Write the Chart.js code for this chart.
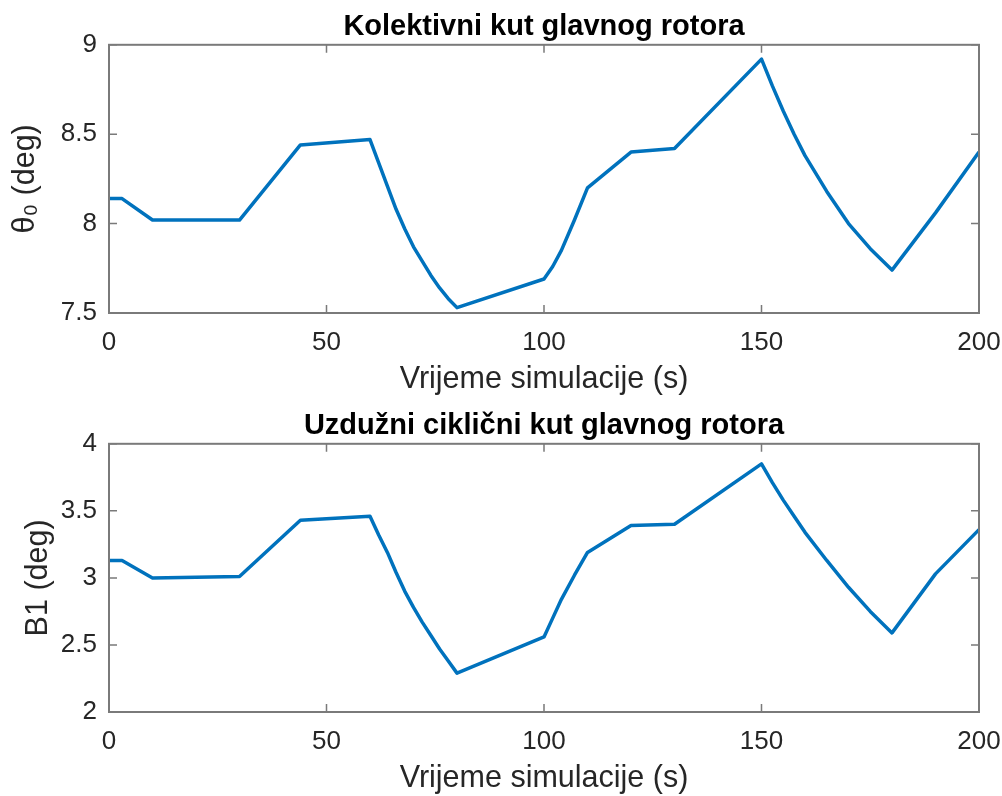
<!DOCTYPE html>
<html>
<head>
<meta charset="utf-8">
<script src="https://cdn.jsdelivr.net/npm/chart.js@4.4.0/dist/chart.umd.min.js"></script>
<style>
  html, body { margin: 0; padding: 0; background: #fff; }
  .box { position: absolute; left: 0; width: 1002px; height: 398px; }
  #top { top: 0; }
  #bottom { top: 399px; }
</style>
</head>
<body>
<div class="box" id="top"><canvas id="c1" width="1002" height="398"></canvas></div>
<div class="box" id="bottom"><canvas id="c2" width="1002" height="398"></canvas></div>
<script>
// simulation time (s)
var time = [0, 3, 10, 30, 44, 60, 62, 64, 66, 68, 70, 72, 74, 76, 78, 80,
            100, 102, 104, 107, 110, 120, 130, 150, 152.5, 155, 157.5, 160, 165, 170, 175, 180, 190, 200];
// collective pitch theta0 (deg)
var theta0 = [8.14, 8.14, 8.02, 8.02, 8.44, 8.47, 8.34, 8.21, 8.08, 7.97, 7.87, 7.79, 7.71, 7.64, 7.58, 7.53,
              7.69, 7.76, 7.85, 8.02, 8.20, 8.40, 8.42, 8.92, 8.77, 8.63, 8.50, 8.38, 8.18, 8.00, 7.86, 7.74, 8.06, 8.40];
// longitudinal cyclic B1 (deg)
var b1 = [3.13, 3.13, 3.00, 3.01, 3.43, 3.46, 3.32, 3.19, 3.04, 2.90, 2.78, 2.67, 2.57, 2.47, 2.38, 2.29,
          2.56, 2.70, 2.84, 3.02, 3.19, 3.39, 3.40, 3.85, 3.71, 3.58, 3.46, 3.34, 3.13, 2.93, 2.75, 2.59, 3.03, 3.36];

var xTicks = [0, 50, 100, 150, 200];
var thetaTicks = [7.5, 8, 8.5, 9];
var b1Ticks = [2, 2.5, 3, 3.5, 4];

Chart.defaults.font.family = "'Liberation Sans', Arial, sans-serif";
Chart.defaults.color = '#262626';

// matlab style box with inward ticks on all sides
var matlabBox = {
  id: 'matlabBox',
  afterDraw: function(chart) {
    var ctx = chart.ctx, a = chart.chartArea;
    var xs = chart.scales.x, ys = chart.scales.y;
    ctx.save();
    ctx.strokeStyle = '#7a7a7a';
    ctx.lineWidth = 1.5;
    ctx.beginPath();
    xs.ticks.forEach(function(t) {
      var px = xs.getPixelForValue(t.value);
      ctx.moveTo(px, a.bottom); ctx.lineTo(px, a.bottom - 8);
      ctx.moveTo(px, a.top); ctx.lineTo(px, a.top + 8);
    });
    ys.ticks.forEach(function(t) {
      var py = ys.getPixelForValue(t.value);
      ctx.moveTo(a.left, py); ctx.lineTo(a.left + 8, py);
      ctx.moveTo(a.right, py); ctx.lineTo(a.right - 8, py);
    });
    ctx.stroke();
    ctx.lineWidth = 2;
    ctx.strokeRect(a.left, a.top, a.right - a.left, a.bottom - a.top);
    ctx.restore();
  }
};

function makeChart(id, title, yLabel, values, yTicks, yTitlePad) {
  return new Chart(document.getElementById(id), {
    type: 'line',
    data: {
      datasets: [{
        data: time.map(function(t, i) { return { x: t, y: values[i] }; }),
        borderColor: '#0072BD',
        borderWidth: 3.5,
        pointRadius: 0,
        tension: 0,
        borderJoinStyle: 'round',
        fill: false
      }]
    },
    options: {
      responsive: false,
      animation: false,
      layout: { padding: { left: 0, right: 23, top: 0, bottom: 0 } },
      plugins: {
        legend: { display: false },
        tooltip: { enabled: false },
        title: {
          display: true,
          text: title,
          fullSize: false,
          color: '#000',
          font: { size: 29, weight: 'bold' },
          padding: { top: 10, bottom: 0 }
        }
      },
      scales: {
        x: {
          type: 'linear',
          min: xTicks[0],
          max: xTicks[xTicks.length - 1],
          afterBuildTicks: function(s) { s.ticks = xTicks.map(function(v) { return { value: v }; }); },
          afterFit: function(s) { s.height = 85; s.paddingLeft = 0; s.paddingRight = 0; },
          grid: { display: false, drawTicks: false },
          border: { display: false },
          ticks: { font: { size: 26 }, padding: 14, maxRotation: 0, callback: function(v) { return String(v); } },
          title: { display: true, text: 'Vrijeme simulacije (s)', font: { size: 30.5 }, padding: { top: 0, bottom: 0 } }
        },
        y: {
          min: yTicks[0],
          max: yTicks[yTicks.length - 1],
          afterBuildTicks: function(s) { s.ticks = yTicks.map(function(v) { return { value: v }; }); },
          afterFit: function(s) { s.width = 109; s.paddingTop = 0; s.paddingBottom = 0; },
          grid: { display: false, drawTicks: false },
          border: { display: false },
          ticks: { font: { size: 26 }, padding: 12, callback: function(v) { return String(v); } },
          title: { display: true, text: yLabel, font: { size: 30.5 }, padding: { top: yTitlePad, bottom: 0 } }
        }
      }
    },
    plugins: [matlabBox]
  });
}

makeChart('c1', 'Kolektivni kut glavnog rotora', 'θ₀ (deg)', theta0, thetaTicks, 7);
makeChart('c2', 'Uzdužni ciklični kut glavnog rotora', 'B1 (deg)', b1, b1Ticks, 20);
</script>
</body>
</html>
